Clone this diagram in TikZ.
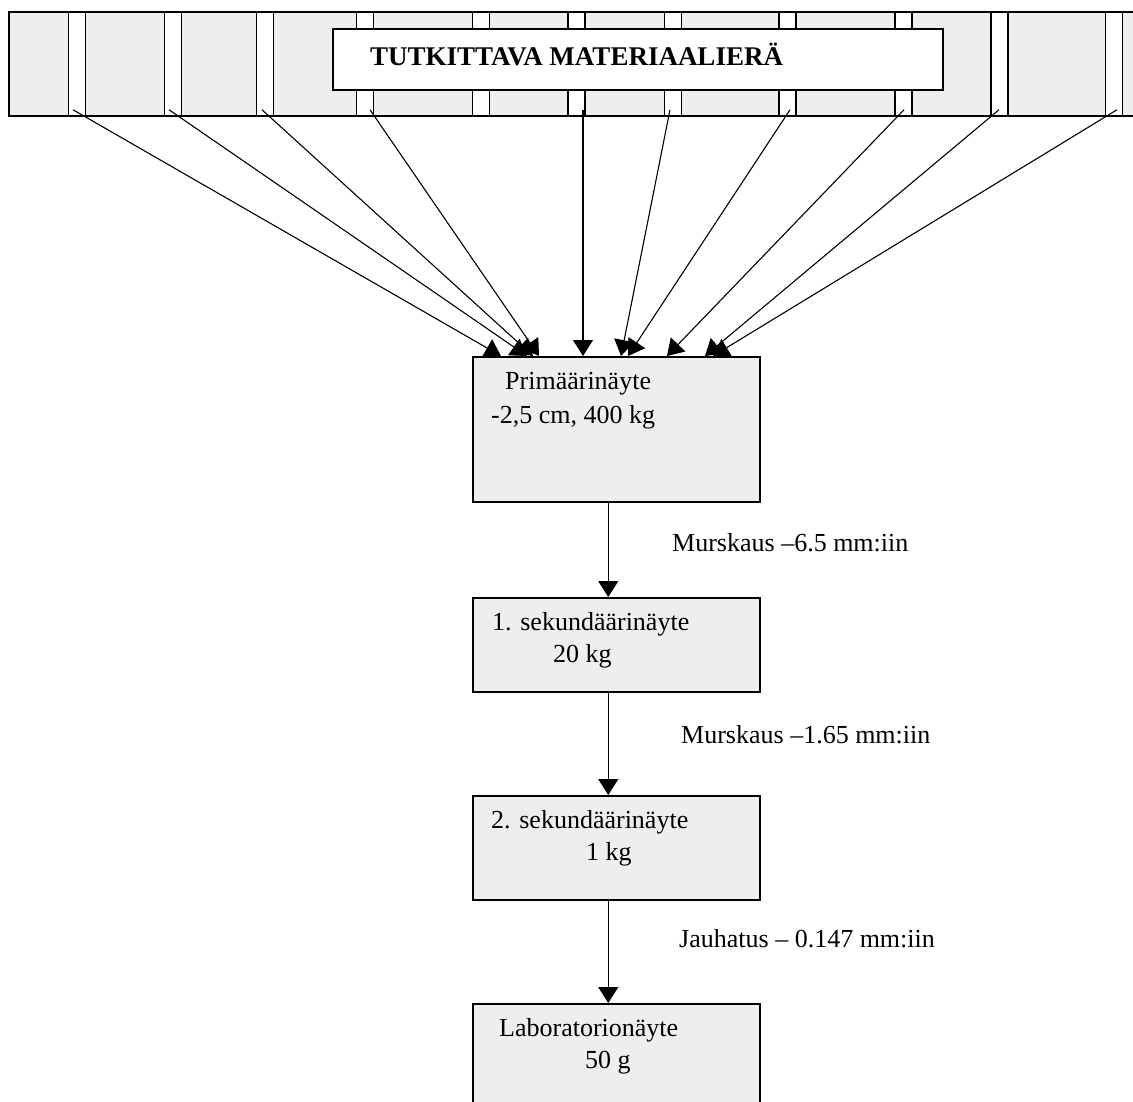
\documentclass[tikz,border=0pt]{standalone}
\usepackage{fontspec}
\setmainfont{Liberation Serif}
\usetikzlibrary{arrows.meta}
\definecolor{boxgray}{RGB}{238,238,238}
\tikzset{
  box/.style={draw, line width=1.5pt, fill=boxgray, minimum width=287pt, inner sep=0pt, anchor=north west},
  strip/.style={draw, line width=1.5pt, fill=white, minimum width=17pt, minimum height=104pt, inner sep=0pt},
  txt/.style={anchor=base west, inner sep=0pt, font=\fontsize{26}{30}\selectfont},
  arr/.style={line width=1.1pt, -{Triangle[width=20pt,length=16pt]}},
}

\begin{document}
\begin{tikzpicture}[x=1pt,y=-1pt]
	\useasboundingbox (0,0) rectangle (1133,1101);
	\clip (0,0) rectangle (1133,1101);
	% material lot
	\draw[line width=1.5pt, fill=boxgray] (9,12) rectangle (1150,116);
	\foreach \i/\x in {1/77, 2/173, 3/265, 4/365, 5/481, 6/576.5, 7/673, 8/787.5, 9/903.5, 10/999.5, 11/1114}
		\node[strip] (s\i) at (\x,64) {};
	\node[draw, line width=1.5pt, fill=white, minimum width=610pt, minimum height=61pt, inner sep=0pt] (lot) at (638,59.5) {};
	\node[txt, font=\fontsize{27}{31}\selectfont\bfseries] (lottxt) at (370,65) {TUTKITTAVA MATERIAALIERÄ};

	% samples
	\node[box, minimum height=145pt] (prim) at (472,356) {};
	\node[box, minimum height=94pt] (sec1) at (472,597) {};
	\node[box, minimum height=104pt] (sec2) at (472,795) {};
	\node[box, minimum height=120pt] (lab) at (472,1003) {};

	\node[txt] (primA) at (505,389) {Primäärinäyte};
	\node[txt] (primB) at (491,423) {-2,5 cm, 400 kg};
	\node[txt] (sec1A) at (492,630) {1. sekundäärinäyte};
	\node[txt] (sec1B) at (553,662) {20 kg};
	\node[txt] (sec2A) at (491,828) {2. sekundäärinäyte};
	\node[txt] (sec2B) at (586,860) {1 kg};
	\node[txt] (labA) at (499,1036) {Laboratorionäyte};
	\node[txt] (labB) at (585,1068) {50 g};

	% increments
	\foreach \s/\dx/\t in {1/-4/501, 2/-4/527, 3/-3/533, 4/5/539, 6/6.5/583, 7/-3/621, 8/2.5/628, 9/0.5/667, 10/-0.5/705, 11/3/713}{
		\coordinate (t\s) at (\t,356);
		\draw[arr] ([shift={(\dx,-7)}]s\s.south) -- (t\s);
	}

	% reduction steps
	\draw[arr] ([xshift=-8pt]prim.south) -- ([xshift=-8pt]sec1.north);
	\draw[arr] ([xshift=-8pt]sec1.south) -- ([xshift=-8pt]sec2.north);
	\draw[arr] ([xshift=-8pt]sec2.south) -- ([xshift=-8pt]lab.north);
	\node[txt] (step1) at (672,551) {Murskaus –6.5 mm:iin};
	\node[txt] (step2) at (681,743) {Murskaus –1.65 mm:iin};
	\node[txt] (step3) at (679,947) {Jauhatus – 0.147 mm:iin};
\end{tikzpicture}
\end{document}
